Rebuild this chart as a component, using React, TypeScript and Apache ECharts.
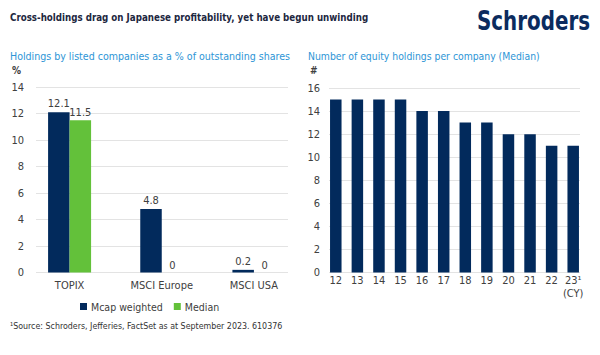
import React, { useEffect, useRef } from "react";
import * as echarts from "echarts";

const leftCategories = ["TOPIX", "MSCI Europe", "MSCI USA"];
const mcapWeighted = [12.1, 4.8, 0.2];
const medianValues = [11.5, 0, 0];
const leftTicks = { min: 0, max: 14, interval: 2 };

const yearLabels = ["12", "13", "14", "15", "16", "17", "18", "19", "20", "21", "22", "23¹\n(CY)"];
const holdingsPerCompany = [15, 15, 15, 15, 14, 14, 13, 13, 12, 12, 11, 11];
const rightTicks = { min: 0, max: 16, interval: 2 };

const NAVY = "#022a5c";
const GREEN = "#63c13a";
const FF = "'DejaVu Sans Condensed', 'Liberation Sans Narrow', 'Open Sans', sans-serif";
const TXT = "#404040";
const GRID = "#e3e3e3";

export default function App() {
  const ref = useRef<HTMLDivElement>(null);
  useEffect(() => {
    if (!ref.current) return;
    const chart = echarts.init(ref.current, null, { renderer: "svg" });
    const labelStyle = { color: TXT, fontSize: 11, fontFamily: FF };
    chart.setOption({
      animation: false,
      backgroundColor: "#ffffff",
      textStyle: { fontFamily: FF },
      grid: [
        { left: 23.5, width: 276.5, top: 87, height: 185.5 },
        { left: 36, width: 252, top: 87, height: 185.5 },
        { left: 325, width: 259, top: 88, height: 184.5 },
        { left: 329, width: 251, top: 88, height: 184.5 },
      ],
      xAxis: [
        {
          gridIndex: 0, type: "category", data: leftCategories,
          axisLine: { show: false }, axisTick: { show: false },
          axisLabel: { ...labelStyle, margin: 7 },
        },
        { gridIndex: 1, type: "value", show: false, min: 0, max: 1 },
        {
          gridIndex: 2, type: "category", data: yearLabels,
          axisLine: { show: false }, axisTick: { show: false },
          axisLabel: { ...labelStyle, margin: 1, lineHeight: 13, interval: 0 },
        },
        { gridIndex: 3, type: "value", show: false, min: 0, max: 1 },
      ],
      yAxis: [
        { gridIndex: 0, type: "value", show: false, ...leftTicks, splitLine: { show: false } },
        {
          gridIndex: 1, type: "value", ...leftTicks,
          axisLine: { show: false }, axisTick: { show: false },
          axisLabel: { ...labelStyle, margin: 12 },
          splitLine: { lineStyle: { color: GRID, width: 1 } },
        },
        { gridIndex: 2, type: "value", show: false, ...rightTicks, splitLine: { show: false } },
        {
          gridIndex: 3, type: "value", ...rightTicks,
          axisLine: { show: false }, axisTick: { show: false },
          axisLabel: { ...labelStyle, margin: 9 },
          splitLine: { lineStyle: { color: GRID, width: 1 } },
        },
      ],
      legend: {
        data: ["Mcap weighted", "Median"],
        left: 75, top: 296, icon: "rect", itemWidth: 7, itemHeight: 7, itemGap: 11,
        textStyle: { color: TXT, fontSize: 10.5, fontFamily: FF, padding: [0, 0, 0, -1] },
      },
      series: [
        {
          name: "Mcap weighted", type: "bar", xAxisIndex: 0, yAxisIndex: 0,
          data: mcapWeighted, barWidth: 21.5, barGap: "0%",
          itemStyle: { color: NAVY },
          label: { show: true, position: "top", distance: 3, color: TXT, fontSize: 11, fontFamily: FF },
        },
        {
          name: "Median", type: "bar", xAxisIndex: 0, yAxisIndex: 0,
          data: medianValues, barWidth: 21.5, barGap: "0%",
          itemStyle: { color: GREEN },
          label: { show: true, position: "top", distance: 2, color: TXT, fontSize: 11, fontFamily: FF },
        },
        {
          name: "Holdings", type: "bar", xAxisIndex: 2, yAxisIndex: 2,
          data: holdingsPerCompany, barWidth: 11.5,
          itemStyle: { color: NAVY },
        },
      ],
      graphic: [
        {
          type: "text", x: 10, y: 11, scaleX: 0.88,
          style: { text: "Cross-holdings drag on Japanese profitability, yet have begun unwinding", fill: "#1d2740", font: `bold 11px ${FF}`, verticalAlign: "top" },
        },
        {
          type: "text", x: 477, y: 8, scaleX: 0.85,
          style: { text: "Schroders", fill: "#0b2b5e", font: `bold 26px ${FF}`, verticalAlign: "top" },
        },
        {
          type: "text", x: 10, y: 51, scaleX: 0.96,
          style: { text: "Holdings by listed companies as a % of outstanding shares", fill: "#2d95d6", font: `11px ${FF}`, verticalAlign: "top" },
        },
        {
          type: "text", x: 308, y: 51, scaleX: 0.94,
          style: { text: "Number of equity holdings per company (Median)", fill: "#2d95d6", font: `11px ${FF}`, verticalAlign: "top" },
        },
        { type: "text", x: 12, y: 65, style: { text: "%", fill: TXT, font: `bold 10px ${FF}`, verticalAlign: "top" } },
        { type: "text", x: 310, y: 65, style: { text: "#", fill: TXT, font: `bold 10px ${FF}`, verticalAlign: "top" } },
        {
          type: "text", x: 10, y: 321,
          style: { text: "¹Source: Schroders, Jefferies, FactSet as at September 2023. 610376", fill: "#333333", font: `8.8px ${FF}`, verticalAlign: "top" },
        },
      ],
    });
    return () => chart.dispose();
  }, []);
  return <div ref={ref} style={{ position: "absolute", left: 0, top: 0, width: 600, height: 355 }} />;
}
